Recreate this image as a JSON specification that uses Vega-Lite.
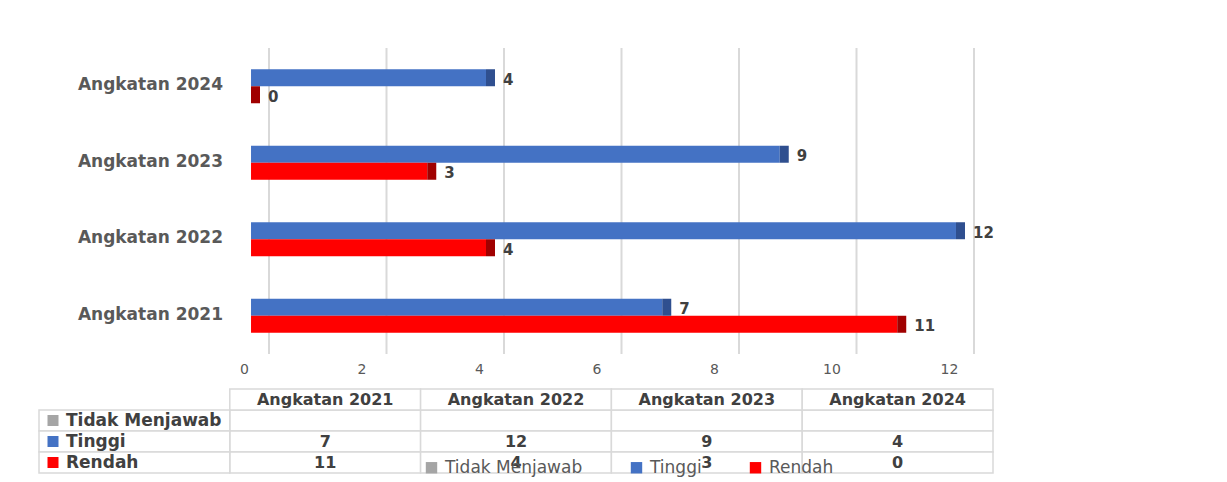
{
  "$schema": "https://vega.github.io/schema/vega-lite/v6.json",
  "padding": {"left": 38, "top": 47, "right": 5, "bottom": 5},
  "background": "white",
  "config": {"view": {"stroke": null}, "font": "DejaVu Sans"},
  "datasets": {
    "main": [
      {"angkatan": "Angkatan 2021", "series": "Tidak Menjawab", "value": null},
      {"angkatan": "Angkatan 2021", "series": "Tinggi", "value": 7},
      {"angkatan": "Angkatan 2021", "series": "Rendah", "value": 11},
      {"angkatan": "Angkatan 2022", "series": "Tidak Menjawab", "value": null},
      {"angkatan": "Angkatan 2022", "series": "Tinggi", "value": 12},
      {"angkatan": "Angkatan 2022", "series": "Rendah", "value": 4},
      {"angkatan": "Angkatan 2023", "series": "Tidak Menjawab", "value": null},
      {"angkatan": "Angkatan 2023", "series": "Tinggi", "value": 9},
      {"angkatan": "Angkatan 2023", "series": "Rendah", "value": 3},
      {"angkatan": "Angkatan 2024", "series": "Tidak Menjawab", "value": null},
      {"angkatan": "Angkatan 2024", "series": "Tinggi", "value": 4},
      {"angkatan": "Angkatan 2024", "series": "Rendah", "value": 0}
    ],
    "grid": [{"tick": 0}, {"tick": 2}, {"tick": 4}, {"tick": 6}, {"tick": 8}, {"tick": 10}, {"tick": 12}],
    "headers": [
      {"angkatan": "Angkatan 2021", "series": "_"},
      {"angkatan": "Angkatan 2022", "series": "_"},
      {"angkatan": "Angkatan 2023", "series": "_"},
      {"angkatan": "Angkatan 2024", "series": "_"}
    ],
    "rowheads": [
      {"angkatan": "_", "series": "Tidak Menjawab"},
      {"angkatan": "_", "series": "Tinggi"},
      {"angkatan": "_", "series": "Rendah"}
    ]
  },
  "spacing": 35,
  "bounds": "flush",
  "vconcat": [
    {
      "width": 954,
      "height": 306,
      "layer": [
        {
          "data": {"name": "grid"},
          "mark": {"type": "rule", "color": "#d9d9d9", "strokeWidth": 2, "xOffset": 18},
          "encoding": {
            "x": {"field": "tick", "type": "quantitative",
              "scale": {"domain": [-3.609, 12.63], "nice": false, "zero": false},
              "axis": {"values": [0, 2, 4, 6, 8, 10, 12], "format": "d", "title": null, "grid": false, "domain": false, "ticks": false, "labelOffset": -7, "labelPadding": 8, "labelFontSize": 14, "labelColor": "#595959", "labelFont": "DejaVu Sans"}}
          }
        },
        {
          "data": {"name": "main"},
          "transform": [{"filter": "datum.series !== 'Tidak Menjawab'"}],
          "mark": {"type": "bar"},
          "encoding": {
            "x": {"field": "value", "type": "quantitative", "stack": null,
              "scale": {"domain": [-3.609, 12.63], "nice": false, "zero": false},
              "axis": {"values": [0, 2, 4, 6, 8, 10, 12], "format": "d", "title": null, "grid": false, "domain": false, "ticks": false, "labelOffset": -7, "labelPadding": 8, "labelFontSize": 14, "labelColor": "#595959", "labelFont": "DejaVu Sans"}},
            "y": {"field": "angkatan", "type": "nominal",
              "scale": {"domain": ["Angkatan 2024", "Angkatan 2023", "Angkatan 2022", "Angkatan 2021"], "paddingInner": 0.555, "paddingOuter": 0.2775},
              "axis": null},
            "yOffset": {"field": "series", "type": "nominal", "scale": {"domain": ["Tinggi", "Rendah"], "paddingInner": 0, "paddingOuter": 0}},
            "color": {"field": "series", "type": "nominal",
              "scale": {"domain": ["Tidak Menjawab", "Tinggi", "Rendah"], "range": ["#A5A5A5", "#4472C4", "#FF0000"]},
              "legend": {"orient": "none", "legendX": 384, "legendY": 411, "direction": "horizontal", "title": null, "symbolType": "square", "symbolSize": 130, "symbolStrokeWidth": 0, "symbolOpacity": 1, "labelFontSize": 17, "labelColor": "#595959", "labelFont": "DejaVu Sans", "columnPadding": 45, "labelOffset": 5}}
          }
        },
        {
          "data": {"name": "main"},
          "transform": [{"filter": "datum.series !== 'Tidak Menjawab'"}],
          "mark": {"type": "tick", "orient": "vertical", "thickness": 9, "size": 17, "xOffset": 4.5, "opacity": 1},
          "encoding": {
            "x": {"field": "value", "type": "quantitative"},
            "y": {"field": "angkatan", "type": "nominal"},
            "yOffset": {"field": "series", "type": "nominal"},
            "color": {"condition": {"test": "datum.series === 'Tinggi'", "value": "#2F4F8F"}, "value": "#A00000"}
          }
        },
        {
          "data": {"name": "main"},
          "transform": [{"filter": "datum.series !== 'Tidak Menjawab'"}],
          "mark": {"type": "text", "align": "left", "baseline": "middle", "dx": 17, "dy": 2, "fontSize": 15, "fontWeight": "bold", "color": "#404040", "font": "DejaVu Sans"},
          "encoding": {
            "x": {"field": "value", "type": "quantitative"},
            "y": {"field": "angkatan", "type": "nominal"},
            "yOffset": {"field": "series", "type": "nominal"},
            "text": {"field": "value", "type": "quantitative"}
          }
        },
        {
          "data": {"name": "main"},
          "transform": [{"filter": "datum.series === 'Tinggi'"}],
          "mark": {"type": "text", "align": "right", "baseline": "middle", "dx": -28, "dy": -1, "fontSize": 17, "fontWeight": "bold", "color": "#595959", "font": "DejaVu Sans"},
          "encoding": {
            "x": {"datum": 0, "type": "quantitative"},
            "y": {"field": "angkatan", "type": "nominal"},
            "text": {"field": "angkatan", "type": "nominal"}
          }
        }
      ]
    },
    {
      "width": 954,
      "height": 84,
      "encoding": {
        "x": {"field": "angkatan", "type": "nominal",
          "scale": {"domain": ["_", "Angkatan 2021", "Angkatan 2022", "Angkatan 2023", "Angkatan 2024"], "paddingInner": 0, "paddingOuter": 0},
          "axis": null},
        "y": {"field": "series", "type": "nominal",
          "scale": {"domain": ["_", "Tidak Menjawab", "Tinggi", "Rendah"], "paddingInner": 0, "paddingOuter": 0},
          "axis": null}
      },
      "layer": [
        {
          "data": {"name": "main"},
          "mark": {"type": "rect", "fill": "white", "stroke": "#d9d9d9", "strokeWidth": 1.5},
          "encoding": {}
        },
        {
          "data": {"name": "headers"},
          "mark": {"type": "rect", "fill": "white", "stroke": "#d9d9d9", "strokeWidth": 1.5},
          "encoding": {}
        },
        {
          "data": {"name": "rowheads"},
          "mark": {"type": "rect", "fill": "white", "stroke": "#d9d9d9", "strokeWidth": 1.5},
          "encoding": {}
        },
        {
          "data": {"name": "main"},
          "transform": [{"filter": "datum.value != null"}],
          "mark": {"type": "text", "align": "center", "baseline": "middle", "fontSize": 16, "fontWeight": "bold", "color": "#404040", "font": "DejaVu Sans"},
          "encoding": {"text": {"field": "value", "type": "quantitative"}}
        },
        {
          "data": {"name": "headers"},
          "mark": {"type": "text", "align": "center", "baseline": "middle", "fontSize": 16, "fontWeight": "bold", "color": "#404040", "font": "DejaVu Sans"},
          "encoding": {"text": {"field": "angkatan", "type": "nominal"}}
        },
        {
          "data": {"name": "rowheads"},
          "mark": {"type": "text", "align": "left", "baseline": "middle", "dx": 27, "fontSize": 17, "fontWeight": "bold", "color": "#404040", "font": "DejaVu Sans"},
          "encoding": {
            "x": {"field": "angkatan", "type": "nominal", "bandPosition": 0},
            "text": {"field": "series", "type": "nominal"}
          }
        },
        {
          "data": {"name": "rowheads"},
          "mark": {"type": "point", "shape": "square", "filled": true, "opacity": 1, "size": 121, "xOffset": 14},
          "encoding": {
            "x": {"field": "angkatan", "type": "nominal", "bandPosition": 0},
            "color": {"field": "series", "type": "nominal",
              "legend": {"orient": "none", "legendX": 384, "legendY": 411, "direction": "horizontal", "title": null, "symbolType": "square", "symbolSize": 130, "symbolStrokeWidth": 0, "symbolOpacity": 1, "labelFontSize": 17, "labelColor": "#595959", "labelFont": "DejaVu Sans", "columnPadding": 45, "labelOffset": 5}}
          }
        }
      ]
    }
  ]
}
